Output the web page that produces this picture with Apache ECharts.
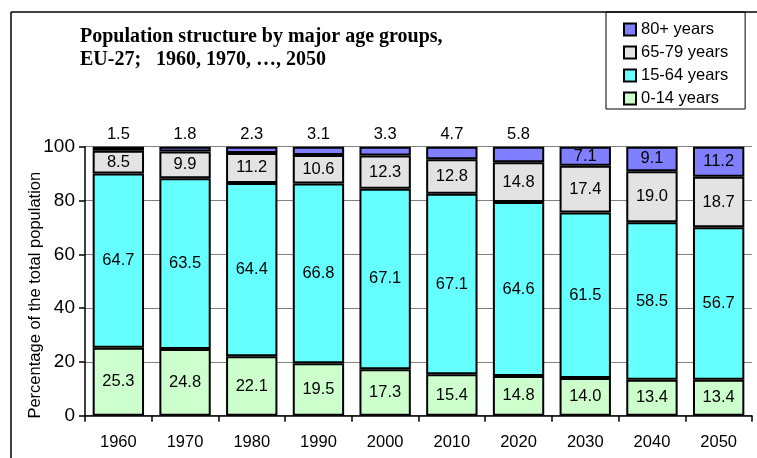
<!DOCTYPE html>
<html>
<head>
<meta charset="utf-8">
<script src="https://cdn.jsdelivr.net/npm/echarts@6/dist/echarts.min.js"></script>
<style>
  html, body { margin: 0; padding: 0; background: #fff; }
  #chart { width: 757px; height: 458px; }
</style>
</head>
<body>
<div id="chart"></div>
<script>
// Population shares (%) by age group, EU-27
const years = ['1960', '1970', '1980', '1990', '2000', '2010', '2020', '2030', '2040', '2050'];
const age0to14 = [25.3, 24.8, 22.1, 19.5, 17.3, 15.4, 14.8, 14.0, 13.4, 13.4];
const age15to64 = [64.7, 63.5, 64.4, 66.8, 67.1, 67.1, 64.6, 61.5, 58.5, 56.7];
const age65to79 = [8.5, 9.9, 11.2, 10.6, 12.3, 12.8, 14.8, 17.4, 19.0, 18.7];
const age80plus = [1.5, 1.8, 2.3, 3.1, 3.3, 4.7, 5.8, 7.1, 9.1, 11.2];
const yTicks = [0, 20, 40, 60, 80, 100];

const FONT = '"Liberation Sans", Arial, sans-serif';
const labelBase = { show: true, color: '#000', fontSize: 16.5, fontFamily: FONT, formatter: p => p.value.toFixed(1) };

function barSeries(name, values, color, labelFor) {
  return {
    name: name,
    type: 'bar',
    stack: 'pop',
    barCategoryGap: '23%',
    itemStyle: { color: color, borderColor: '#000', borderWidth: 2 },
    label: Object.assign({ position: 'inside' }, labelBase),
    data: values.map((v, i) => labelFor ? { value: v, label: labelFor(v, i) } : v)
  };
}

const chart = echarts.init(document.getElementById('chart'), null, { renderer: 'canvas' });
chart.setOption({
  backgroundColor: '#fff',
  animation: false,
  title: {
    text: 'Population structure by major age groups,\nEU-27;   1960, 1970, \u2026, 2050',
    left: 80,
    top: 25,
    padding: 0,
    textStyle: {
      fontFamily: '"Liberation Serif", "Times New Roman", serif',
      fontWeight: 'bold',
      fontSize: 20,
      lineHeight: 23,
      color: '#000'
    }
  },
  legend: {
    orient: 'vertical',
    left: 606,
    top: 12,
    padding: [9, 17, 2, 17],
    borderColor: '#000',
    borderWidth: 1,
    itemWidth: 12,
    itemHeight: 12,
    itemGap: 6,
    icon: 'rect',
    data: ['80+ years', '65-79 years', '15-64 years', '0-14 years'],
    textStyle: { fontFamily: FONT, fontSize: 16.5, lineHeight: 17, color: '#000' }
  },
  graphic: [
    { type: 'line', z: -1, shape: { x1: 11, y1: 12, x2: 757, y2: 12 }, style: { stroke: '#000', lineWidth: 1.5 } },
    { type: 'line', z: -1, shape: { x1: 11, y1: 12, x2: 11, y2: 458 }, style: { stroke: '#000', lineWidth: 1.5 } }
  ],
  grid: { left: 85, right: 5, top: 146.7, bottom: 42.3, containLabel: false },
  xAxis: {
    type: 'category',
    data: years,
    axisLine: { lineStyle: { color: '#000', width: 1.5 } },
    axisTick: { show: true, length: 6, lineStyle: { color: '#000', width: 1.5 } },
    axisLabel: { color: '#000', fontSize: 16.5, fontFamily: FONT, margin: 18 }
  },
  yAxis: {
    type: 'value',
    min: yTicks[0],
    max: yTicks[yTicks.length - 1],
    interval: 20,
    name: 'Percentage of the total population',
    nameLocation: 'middle',
    nameRotate: 90,
    nameGap: 41,
    nameMoveOverlap: false,
    nameTextStyle: { color: '#000', fontSize: 16.5, fontFamily: FONT, padding: [0, 28, 0, 0] },
    axisLine: { show: true, lineStyle: { color: '#000', width: 1.5 } },
    axisTick: { show: true, length: 6, lineStyle: { color: '#000', width: 1.5 } },
    axisLabel: { color: '#000', fontSize: 19, fontFamily: FONT, margin: 10 },
    splitLine: { show: true, lineStyle: { color: '#808080', width: 1 } }
  },
  series: [
    barSeries('0-14 years', age0to14, '#CCFFCC'),
    barSeries('15-64 years', age15to64, '#66FFFF'),
    barSeries('65-79 years', age65to79, '#E3E3E3'),
    barSeries('80+ years', age80plus, '#7F7FFF', (v) => ({ position: v < 7 ? 'top' : 'inside', distance: 4 }))
  ]
});
</script>
</body>
</html>
